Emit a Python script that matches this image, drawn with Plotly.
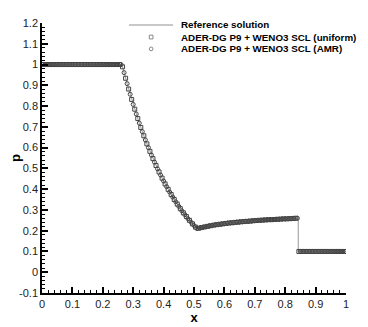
import plotly.graph_objects as go

# reference (exact) solution
x_ref = [0.0, 0.263, 0.28, 0.30, 0.32, 0.34, 0.36, 0.38, 0.40, 0.42, 0.44, 0.46,
         0.48, 0.50, 0.51, 0.55, 0.60, 0.65, 0.70, 0.75, 0.80, 0.843, 0.843, 1.0]
p_ref = [1.0, 1.0, 0.908, 0.808, 0.718, 0.637, 0.564, 0.498, 0.439, 0.386, 0.339, 0.296,
         0.258, 0.225, 0.210, 0.223, 0.234, 0.242, 0.248, 0.253, 0.257, 0.261, 0.1, 0.1]

# ADER-DG P9 + WENO3 SCL on the uniform mesh (cell centres)
x_uni = [0.005, 0.015, 0.025, 0.035, 0.045, 0.055, 0.065, 0.075, 0.085, 0.095,
         0.105, 0.115, 0.125, 0.135, 0.145, 0.155, 0.165, 0.175, 0.185, 0.195,
         0.205, 0.215, 0.225, 0.235, 0.245, 0.255, 0.265, 0.275, 0.285, 0.295,
         0.305, 0.315, 0.325, 0.335, 0.345, 0.355, 0.365, 0.375, 0.385, 0.395,
         0.405, 0.415, 0.425, 0.435, 0.445, 0.455, 0.465, 0.475, 0.485, 0.495,
         0.505, 0.515, 0.525, 0.535, 0.545, 0.555, 0.565, 0.575, 0.585, 0.595,
         0.605, 0.615, 0.625, 0.635, 0.645, 0.655, 0.665, 0.675, 0.685, 0.695,
         0.705, 0.715, 0.725, 0.735, 0.745, 0.755, 0.765, 0.775, 0.785, 0.795,
         0.805, 0.815, 0.825, 0.835, 0.845, 0.855, 0.865, 0.875, 0.885, 0.895,
         0.905, 0.915, 0.925, 0.935, 0.945, 0.955, 0.965, 0.975, 0.985, 0.995]
p_uni = [1.0, 1.0, 1.0, 1.0, 1.0, 1.0, 1.0, 1.0, 1.0, 1.0,
         1.0, 1.0, 1.0, 1.0, 1.0, 1.0, 1.0, 1.0, 1.0, 1.0,
         1.0, 1.0, 1.0, 1.0, 1.0, 1.0, 0.989, 0.934, 0.882, 0.832,
         0.785, 0.740, 0.697, 0.657, 0.618, 0.582, 0.547, 0.514, 0.483, 0.453,
         0.425, 0.399, 0.374, 0.350, 0.328, 0.306, 0.286, 0.268, 0.250, 0.233,
         0.217, 0.212, 0.215, 0.218, 0.221, 0.224, 0.227, 0.229, 0.231, 0.233,
         0.235, 0.237, 0.238, 0.240, 0.241, 0.243, 0.244, 0.245, 0.246, 0.248,
         0.249, 0.250, 0.251, 0.252, 0.253, 0.253, 0.254, 0.255, 0.256, 0.257,
         0.257, 0.258, 0.259, 0.260, 0.1, 0.1, 0.1, 0.1, 0.1, 0.1,
         0.1, 0.1, 0.1, 0.1, 0.1, 0.1, 0.1, 0.1, 0.1, 0.1]

# ADER-DG P9 + WENO3 SCL with AMR
x_amr = [0.0, 0.01, 0.02, 0.03, 0.04, 0.05, 0.06, 0.07, 0.08, 0.09,
         0.10, 0.11, 0.12, 0.13, 0.14, 0.15, 0.16, 0.17, 0.18, 0.19,
         0.20, 0.21, 0.22, 0.23, 0.24, 0.25, 0.26, 0.27, 0.28, 0.29,
         0.30, 0.31, 0.32, 0.33, 0.34, 0.35, 0.36, 0.37, 0.38, 0.39,
         0.40, 0.41, 0.42, 0.43, 0.44, 0.45, 0.46, 0.47, 0.48, 0.49,
         0.50, 0.51, 0.52, 0.53, 0.54, 0.55, 0.56, 0.57, 0.58, 0.59,
         0.60, 0.61, 0.62, 0.63, 0.64, 0.65, 0.66, 0.67, 0.68, 0.69,
         0.70, 0.71, 0.72, 0.73, 0.74, 0.75, 0.76, 0.77, 0.78, 0.79,
         0.80, 0.81, 0.82, 0.83, 0.84, 0.85, 0.86, 0.87, 0.88, 0.89,
         0.90, 0.91, 0.92, 0.93, 0.94, 0.95, 0.96, 0.97, 0.98, 0.99, 1.0]
p_amr = [1.0, 1.0, 1.0, 1.0, 1.0, 1.0, 1.0, 1.0, 1.0, 1.0,
         1.0, 1.0, 1.0, 1.0, 1.0, 1.0, 1.0, 1.0, 1.0, 1.0,
         1.0, 1.0, 1.0, 1.0, 1.0, 1.0, 1.0, 0.961, 0.908, 0.857,
         0.808, 0.762, 0.718, 0.677, 0.637, 0.600, 0.564, 0.530, 0.498, 0.468,
         0.439, 0.412, 0.386, 0.362, 0.339, 0.317, 0.296, 0.277, 0.258, 0.241,
         0.225, 0.210, 0.213, 0.217, 0.220, 0.223, 0.225, 0.228, 0.230, 0.232,
         0.234, 0.236, 0.238, 0.239, 0.241, 0.242, 0.243, 0.245, 0.246, 0.247,
         0.248, 0.249, 0.250, 0.251, 0.252, 0.253, 0.254, 0.255, 0.255, 0.256,
         0.257, 0.258, 0.258, 0.259, 0.260, 0.1, 0.1, 0.1, 0.1, 0.1,
         0.1, 0.1, 0.1, 0.1, 0.1, 0.1, 0.1, 0.1, 0.1, 0.1, 0.1]

x_ticks = [0, 0.1, 0.2, 0.3, 0.4, 0.5, 0.6, 0.7, 0.8, 0.9, 1]
x_labels = ['0', '0.1', '0.2', '0.3', '0.4', '0.5', '0.6', '0.7', '0.8', '0.9', '1']
y_ticks = [-0.1, 0, 0.1, 0.2, 0.3, 0.4, 0.5, 0.6, 0.7, 0.8, 0.9, 1, 1.1, 1.2]
y_labels = ['-0.1', '0', '0.1', '0.2', '0.3', '0.4', '0.5', '0.6', '0.7', '0.8',
            '0.9', '1', '1.1', '1.2']

legend_names = ['Reference solution', 'ADER-DG P9 + WENO3 SCL (uniform)',
                'ADER-DG P9 + WENO3 SCL (AMR)']

FONT = 'Liberation Sans, Arial, sans-serif'
MARK = '#444'

fig = go.Figure()
fig.add_trace(go.Scatter(x=x_ref, y=p_ref, mode='lines', name=legend_names[0],
                         line=dict(color='#a8a8a8', width=1.2)))
fig.add_trace(go.Scatter(x=x_uni, y=p_uni, mode='markers', name=legend_names[1],
                         marker=dict(symbol='square-open', size=4, color=MARK,
                                     line=dict(width=1))))
fig.add_trace(go.Scatter(x=x_amr, y=p_amr, mode='markers', name=legend_names[2],
                         marker=dict(symbol='circle-open', size=4, color=MARK,
                                     line=dict(width=1))))

axis_common = dict(showline=True, linecolor='black', linewidth=1.5, mirror=False,
                   ticks='inside', ticklen=6, tickwidth=1.5, tickcolor='black',
                   showgrid=False, zeroline=False,
                   tickfont=dict(family=FONT, size=11, color='#222'),
                   minor=dict(ticks='inside', ticklen=3, tickwidth=1,
                              tickcolor='black', dtick=0.02, showgrid=False))

fig.update_xaxes(range=[0, 1], tickvals=x_ticks, ticktext=x_labels,
                 title=dict(text='x', font=dict(family=FONT, size=13, color='black',
                                                weight='bold'), standoff=0),
                 **axis_common)
fig.update_yaxes(range=[-0.1, 1.2], tickvals=y_ticks, ticktext=y_labels,
                 title=dict(text='p', font=dict(family=FONT, size=13, color='black',
                                                weight='bold'), standoff=5),
                 **axis_common)

# legend drawn by hand (tecplot-style, tight rows)
leg_x_text = 0.450
leg_rows = [0.993, 0.948, 0.904]
for name, yy in zip(legend_names, leg_rows):
    fig.add_annotation(xref='paper', yref='paper', x=leg_x_text, y=yy, text=name,
                       showarrow=False, xanchor='left', yanchor='middle',
                       font=dict(family=FONT, size=9.8, color='black', weight='bold'))
fig.add_shape(type='line', xref='paper', yref='paper', x0=0.286, x1=0.431,
              y0=leg_rows[0], y1=leg_rows[0], line=dict(color='#c8c8c8', width=2))
fig.add_shape(type='rect', xref='paper', yref='paper', x0=0.353, x1=0.365,
              y0=leg_rows[1] - 0.007, y1=leg_rows[1] + 0.007,
              line=dict(color='#888', width=1))
fig.add_shape(type='circle', xref='paper', yref='paper', x0=0.353, x1=0.365,
              y0=leg_rows[2] - 0.007, y1=leg_rows[2] + 0.007,
              line=dict(color='#888', width=1))

# the page keeps an 8px body margin, so the figure is shrunk by that amount
fig.update_layout(
    width=360, height=319,
    margin=dict(l=34, r=22, t=15, b=34, autoexpand=False),
    paper_bgcolor='white', plot_bgcolor='white',
    showlegend=False,
)

fig.write_html("out.html")
